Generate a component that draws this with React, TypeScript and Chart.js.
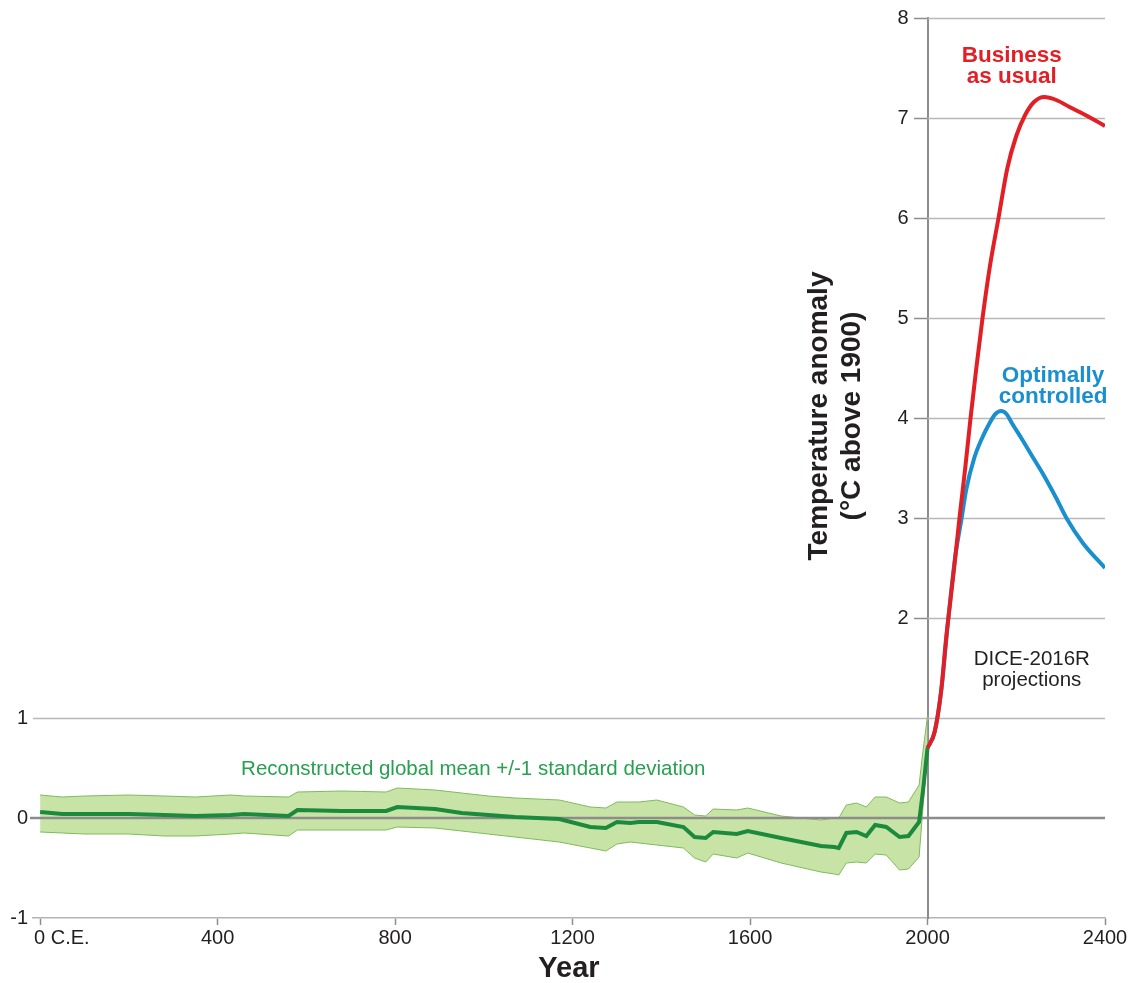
import React, { useEffect, useRef } from 'react';
import { Chart, registerables } from 'chart.js';

Chart.register(...registerables);

// ---- Tick values ----
const xTickYears = [0, 400, 800, 1200, 1600, 2000, 2400];
const leftTicks = [-1, 0, 1];
const rightTicks = [2, 3, 4, 5, 6, 7, 8];

// ---- Reconstructed global mean (+/- 1 sd), years C.E. ----
const reconYears = [0, 50, 100, 200, 280, 350, 430, 460, 560, 580, 680, 780, 805, 890, 950, 1010, 1070, 1170, 1240, 1275, 1300, 1330, 1350, 1390, 1450, 1475, 1500, 1517, 1570, 1595, 1670, 1760, 1790, 1800, 1817, 1840, 1862, 1882, 1907, 1937, 1957, 1981, 1990, 2000];
const reconMean = [0.06, 0.04, 0.04, 0.04, 0.03, 0.02, 0.03, 0.04, 0.02, 0.08, 0.07, 0.07, 0.11, 0.09, 0.05, 0.03, 0.01, -0.01, -0.09, -0.10, -0.04, -0.05, -0.04, -0.04, -0.09, -0.19, -0.20, -0.14, -0.16, -0.13, -0.20, -0.28, -0.29, -0.30, -0.15, -0.14, -0.18, -0.07, -0.09, -0.19, -0.18, -0.04, 0.28, 0.70];
const reconUpper = [0.23, 0.21, 0.22, 0.23, 0.22, 0.21, 0.23, 0.22, 0.21, 0.26, 0.27, 0.26, 0.30, 0.28, 0.25, 0.22, 0.20, 0.18, 0.11, 0.10, 0.16, 0.16, 0.16, 0.18, 0.11, 0.03, 0.02, 0.09, 0.08, 0.10, 0.02, -0.02, 0.00, 0.00, 0.13, 0.15, 0.11, 0.21, 0.21, 0.15, 0.16, 0.33, 0.68, 1.02];
const reconLower = [-0.14, -0.15, -0.16, -0.16, -0.18, -0.18, -0.16, -0.15, -0.18, -0.12, -0.12, -0.12, -0.09, -0.10, -0.13, -0.16, -0.19, -0.24, -0.30, -0.33, -0.26, -0.24, -0.25, -0.27, -0.30, -0.40, -0.44, -0.36, -0.40, -0.35, -0.45, -0.54, -0.56, -0.57, -0.45, -0.44, -0.45, -0.36, -0.37, -0.52, -0.51, -0.39, 0.12, 0.68];

// ---- DICE-2016R projections ----
const bauYears = [2000, 2016, 2031, 2042, 2047, 2060, 2072, 2085, 2097, 2110, 2124, 2140, 2160, 2180, 2200, 2220, 2240, 2263, 2290, 2320, 2360, 2400];
const bauTemp = [0.70, 0.86, 1.28, 1.80, 2.00, 2.50, 3.00, 3.50, 4.00, 4.50, 5.00, 5.50, 6.00, 6.50, 6.82, 7.03, 7.16, 7.21, 7.18, 7.11, 7.02, 6.92];
const optYears = [2000, 2016, 2031, 2047, 2062, 2077, 2087, 2106, 2121, 2140, 2153, 2166, 2178, 2190, 2214, 2237, 2259, 2290, 2313, 2350, 2400];
const optTemp = [0.70, 0.86, 1.28, 2.00, 2.60, 3.00, 3.28, 3.61, 3.78, 3.95, 4.04, 4.07, 4.04, 3.95, 3.78, 3.61, 3.45, 3.20, 3.00, 2.75, 2.50];

const FONT = '"Liberation Sans", Arial, Helvetica, sans-serif';
const TEXT = '#231f20';
const RED = '#e31f26';
const BLUE = '#1a8fcf';
const DKGREEN = '#1c8a3c';
const BAND = '#c8e3a6';
const BANDEDGE = '#7dbb5c';
const LBLGREEN = '#27a04f';

const pts = (xs: number[], ys: number[]) => xs.map((x, i) => ({ x, y: ys[i] }));

const overlay = {
  id: 'overlay',
  beforeDatasetsDraw(chart: any) {
    const { ctx, chartArea, scales } = chart;
    const xs = scales.x;
    const ys = scales.yR;
    ctx.save();
    ctx.lineWidth = 1.5;
    ctx.strokeStyle = '#b8b8b8';
    const x2000 = xs.getPixelForValue(2000);
    rightTicks.forEach((v) => {
      const py = Math.round(ys.getPixelForValue(v)) + 0.5;
      ctx.beginPath();
      ctx.moveTo(x2000, py);
      ctx.lineTo(chartArea.right, py);
      ctx.stroke();
    });
    const p1 = Math.round(ys.getPixelForValue(1)) + 0.5;
    ctx.beginPath();
    ctx.moveTo(chartArea.left, p1);
    ctx.lineTo(chartArea.right, p1);
    ctx.stroke();
    ctx.restore();
  },
  beforeDatasetDraw(chart: any, args: any) {
    if (args.index !== 2) return;
    const { ctx, chartArea, scales } = chart;
    const p0 = scales.yR.getPixelForValue(0);
    ctx.save();
    ctx.strokeStyle = '#8c8c8c';
    ctx.lineWidth = 2.5;
    ctx.beginPath();
    ctx.moveTo(chartArea.left - 3, p0);
    ctx.lineTo(chartArea.right, p0);
    ctx.stroke();
    ctx.restore();
  },
  afterDraw(chart: any) {
    const { ctx, scales } = chart;
    const xs = scales.x;
    const ys = scales.yR;
    const X = (v: number) => xs.getPixelForValue(v);
    const Y = (v: number) => ys.getPixelForValue(v);
    ctx.save();
    // first x tick label, left aligned
    ctx.font = `20px ${FONT}`;
    ctx.fillStyle = TEXT;
    ctx.textAlign = 'left';
    ctx.textBaseline = 'middle';
    ctx.fillText('0 C.E.', X(0) - 6, xs.top + 7 + 1 + 12);

    // right-hand y tick labels (left of the axis at year 2000)
    ctx.textAlign = 'right';
    rightTicks.forEach((v) => {
      ctx.fillText(String(v), X(2000) - 13 - 6, Y(v));
    });

    // y-axis title (rotated)
    ctx.font = `bold 28px ${FONT}`;
    ctx.textAlign = 'center';
    ctx.textBaseline = 'alphabetic';
    const ty = Y(4.02);
    [['Temperature anomaly', 827], ['(°C above 1900)', 860]].forEach(([t, bx]) => {
      ctx.save();
      ctx.translate(bx as number, ty);
      ctx.rotate(-Math.PI / 2);
      ctx.fillText(t as string, 0, 0);
      ctx.restore();
    });

    // Series labels
    ctx.textAlign = 'center';
    ctx.font = `bold 22.5px ${FONT}`;
    ctx.fillStyle = RED;
    ctx.fillText('Business', X(2190), Y(7.56));
    ctx.fillText('as usual', X(2190), Y(7.35));
    ctx.fillStyle = BLUE;
    ctx.fillText('Optimally', X(2283), Y(4.36));
    ctx.fillText('controlled', X(2283), Y(4.15));
    ctx.font = `20.5px ${FONT}`;
    ctx.fillStyle = TEXT;
    ctx.fillText('DICE-2016R', X(2235), Y(1.53));
    ctx.fillText('projections', X(2235), Y(1.32));
    ctx.fillStyle = LBLGREEN;
    ctx.textAlign = 'left';
    ctx.fillText('Reconstructed global mean +/-1 standard deviation', X(453), Y(0.43));
    ctx.restore();
  },
};

export default function App() {
  const ref = useRef<HTMLCanvasElement>(null);
  useEffect(() => {
    const canvas = ref.current;
    if (!canvas) return;
    const chart = new Chart(canvas, {
      type: 'line',
      data: {
        datasets: [
          {
            label: 'Upper',
            data: pts(reconYears, reconUpper),
            borderColor: BANDEDGE,
            borderWidth: 1,
            backgroundColor: BAND,
            fill: '+1',
            pointRadius: 0,
            tension: 0,
            yAxisID: 'yR',
            order: 4,
          },
          {
            label: 'Lower',
            data: pts(reconYears, reconLower),
            borderColor: BANDEDGE,
            borderWidth: 1,
            fill: false,
            pointRadius: 0,
            tension: 0,
            yAxisID: 'yR',
            order: 3,
          },
          {
            label: 'Reconstructed global mean',
            data: pts(reconYears, reconMean),
            borderColor: DKGREEN,
            borderWidth: 4,
            fill: false,
            pointRadius: 0,
            tension: 0,
            yAxisID: 'yR',
            order: 2,
          },
          {
            label: 'Business as usual',
            data: pts(bauYears, bauTemp),
            borderColor: RED,
            borderWidth: 4,
            fill: false,
            pointRadius: 0,
            cubicInterpolationMode: 'monotone',
            yAxisID: 'yR',
            order: 0,
          },
          {
            label: 'Optimally controlled',
            data: pts(optYears, optTemp),
            borderColor: BLUE,
            borderWidth: 4,
            fill: false,
            pointRadius: 0,
            cubicInterpolationMode: 'monotone',
            yAxisID: 'yR',
            order: 1,
          },
        ],
      },
      options: {
        animation: false,
        responsive: false,
        maintainAspectRatio: false,
        layout: { padding: { top: 18, right: 25, left: 0, bottom: 0 } },
        plugins: {
          legend: { display: false },
          tooltip: { enabled: false },
        },
        scales: {
          x: {
            type: 'linear',
            position: 'bottom',
            min: -16,
            max: 2400,
            afterBuildTicks: (axis: any) => {
              axis.ticks = xTickYears.map((v) => ({ value: v }));
            },
            afterFit: (axis: any) => {
              axis.height = 65;
            },
            ticks: {
              autoSkip: false,
              maxRotation: 0,
              padding: 1,
              color: TEXT,
              font: { family: FONT, size: 20 },
              callback: (v: any) => (v === 0 ? '' : String(v)),
            },
            grid: {
              display: true,
              drawOnChartArea: false,
              drawTicks: true,
              tickLength: 7,
              tickColor: '#8c8c8c',
              tickWidth: 1.5,
            },
            border: { display: true, color: '#b4b4b4', width: 1.5 },
            title: {
              display: true,
              text: 'Year',
              color: TEXT,
              font: { family: FONT, size: 29, weight: 'bold' },
              padding: { top: 0, bottom: -3 },
            },
          },
          yL: {
            type: 'linear',
            position: 'left',
            min: -1,
            max: 8,
            afterBuildTicks: (axis: any) => {
              axis.ticks = leftTicks.map((v) => ({ value: v }));
            },
            afterFit: (axis: any) => {
              axis.width = 33;
            },
            ticks: {
              padding: 5,
              color: TEXT,
              font: { family: FONT, size: 20 },
            },
            grid: { display: false, drawTicks: false },
            border: { display: false },
          },
          yR: {
            type: 'linear',
            position: { x: 2000 },
            min: -1,
            max: 8,
            afterBuildTicks: (axis: any) => {
              axis.ticks = rightTicks.map((v) => ({ value: v }));
            },
            ticks: {
              padding: 6,
              color: TEXT,
              font: { family: FONT, size: 20 },
              callback: () => '',
            },
            grid: {
              display: true,
              drawOnChartArea: false,
              drawTicks: true,
              tickLength: 13,
              tickColor: '#8c8c8c',
              tickWidth: 1.5,
            },
            border: { display: true, color: '#8c8c8c', width: 2 },
          },
        },
      } as any,
      plugins: [overlay],
    });
    return () => chart.destroy();
  }, []);

  return (
    <div style={{ position: 'fixed', left: 0, top: 0, width: 1130, height: 983, background: '#ffffff' }}>
      <canvas ref={ref} width={1130} height={983} style={{ display: 'block', width: 1130, height: 983 }} />
    </div>
  );
}
